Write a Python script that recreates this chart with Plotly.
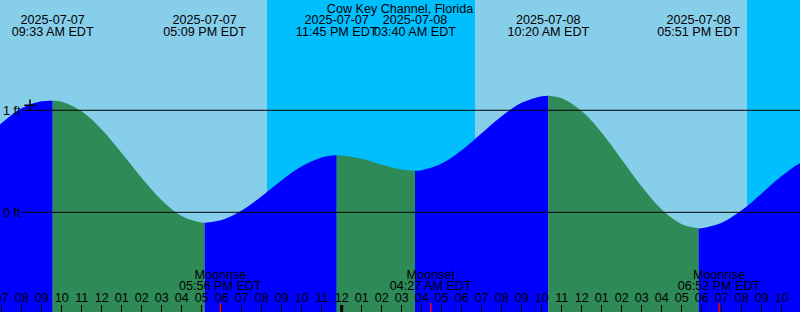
import pandas as pd
import plotly.graph_objects as go

TITLE = "Cow Key Channel, Florida"

# Tide extremes (high / low)
extreme_times = ["2025-07-07 09:33", "2025-07-07 17:09", "2025-07-07 23:45",
                 "2025-07-08 03:40", "2025-07-08 10:20", "2025-07-08 17:51",
                 "2025-07-09 00:24"]
extreme_heights = [1.094, -0.102, 0.559, 0.408, 1.143, -0.157, 0.57]
extreme_date_labels = ["2025-07-07", "2025-07-07", "2025-07-07", "2025-07-08",
                       "2025-07-08", "2025-07-08", "2025-07-09"]
extreme_time_labels = ["09:33 AM EDT", "05:09 PM EDT", "11:45 PM EDT", "03:40 AM EDT",
                       "10:20 AM EDT", "05:51 PM EDT", "12:24 AM EDT"]

# Hourly tide heights (ft), 2025-07-07 06:00 .. 2025-07-08 23:00
reading_start = "2025-07-07 06:00"
reading_heights = [0.70, 0.875, 1.02, 1.088, 1.084, 0.990, 0.812, 0.582, 0.337, 0.119,
                   -0.036, -0.101, -0.075, 0.018, 0.158, 0.314, 0.451, 0.538,
                   0.557, 0.524, 0.466, 0.419, 0.413, 0.478, 0.609, 0.776, 0.942,
                   1.073, 1.138, 1.118, 0.992, 0.780, 0.518, 0.252, 0.027, -0.116,
                   -0.156, -0.102, 0.020, 0.185, 0.355, 0.490]

# Sun: night intervals (sunset -> sunrise)
night_starts = ["2025-07-07 20:16", "2025-07-08 20:16"]
night_ends = ["2025-07-08 06:40", "2025-07-09 06:40"]

# Moon events
moon_times = ["2025-07-07 17:56", "2025-07-08 04:27", "2025-07-08 18:52"]
moon_names = ["Moonrise", "Moonset", "Moonrise"]
moon_time_labels = ["05:56 PM EDT", "04:27 AM EDT", "06:52 PM EDT"]

# Current time marker
now_time = "2025-07-07 08:25"
now_height = 1.05

X_RANGE = ["2025-07-07 06:55", "2025-07-08 22:55"]
Y_RANGE = [-0.977, 2.081]
W, H = 800, 312

DAY = "#87CEEB"
NIGHT = "#00BFFF"
RISE = "#0000FF"
FALL = "#2E8B57"
FONT = "Liberation Sans, Arial, sans-serif"
FS = 12.6

def y_at_px(py):
    # data value at a given pixel row (for label placement)
    return Y_RANGE[1] - py / H * (Y_RANGE[1] - Y_RANGE[0])

reading_times = pd.date_range(reading_start, periods=len(reading_heights), freq="h")
ext_t = pd.to_datetime(extreme_times)
pts = sorted(list(zip(reading_times, reading_heights)) + list(zip(ext_t, extreme_heights)))

fig = go.Figure()

bounds = [pts[0][0]] + list(ext_t)
ybase = Y_RANGE[0] - 0.1
for a, b in zip(bounds[:-1], bounds[1:]):
    seg = [(t, h) for t, h in pts if a <= t <= b]
    color = RISE if seg[-1][1] > seg[0][1] else FALL
    fig.add_trace(go.Scatter(x=[a, b], y=[ybase, ybase], mode="lines",
                             line=dict(width=0), showlegend=False, hoverinfo="skip"))
    fig.add_trace(go.Scatter(x=[p[0] for p in seg], y=[p[1] for p in seg], mode="lines",
                             line=dict(width=0, shape="spline", color=color),
                             fill="tonexty", fillcolor=color, showlegend=False))

# current-time marker
fig.add_trace(go.Scatter(x=[now_time], y=[now_height], mode="markers",
                         marker=dict(symbol="cross-thin", size=8,
                                     line=dict(color="black", width=1.5)),
                         showlegend=False))

tf = dict(size=FS, color="black", family=FONT)
# tide event labels
fig.add_trace(go.Scatter(x=extreme_times, y=[y_at_px(21)] * len(extreme_times),
                         mode="text", text=extreme_date_labels, textposition="middle center",
                         textfont=tf, cliponaxis=False, showlegend=False))
fig.add_trace(go.Scatter(x=extreme_times, y=[y_at_px(32.7)] * len(extreme_times),
                         mode="text", text=extreme_time_labels, textposition="middle center",
                         textfont=tf, cliponaxis=False, showlegend=False))
# moon labels
fig.add_trace(go.Scatter(x=moon_times, y=[y_at_px(275.5)] * len(moon_times),
                         mode="text", text=moon_names, textposition="middle center",
                         textfont=tf, cliponaxis=False, showlegend=False))
fig.add_trace(go.Scatter(x=moon_times, y=[y_at_px(286.5)] * len(moon_times),
                         mode="text", text=moon_time_labels, textposition="middle center",
                         textfont=tf, cliponaxis=False, showlegend=False))

shapes = []
for s, e in zip(night_starts, night_ends):
    shapes.append(dict(type="rect", xref="x", yref="paper", x0=s, x1=e, y0=0, y1=1,
                       fillcolor=NIGHT, line=dict(width=0), layer="below"))
for lvl in [0, 1]:
    shapes.append(dict(type="line", xref="paper", yref="y", x0=22 / W, x1=1, y0=lvl, y1=lvl,
                       line=dict(color="black", width=1), layer="above"))
shapes.append(dict(type="line", xref="x", yref="paper", x0="2025-07-08 00:00",
                   x1="2025-07-08 00:00", y0=0, y1=7 / H,
                   line=dict(color="black", width=3), layer="above"))
for mt in moon_times:
    shapes.append(dict(type="line", xref="x", yref="paper", x0=mt, x1=mt, y0=0, y1=9 / H,
                       line=dict(color="red", width=1.5), layer="above"))

fig.update_layout(
    width=W, height=H, margin=dict(l=0, r=0, t=0, b=0, pad=0),
    paper_bgcolor=DAY, plot_bgcolor=DAY,
    font=dict(family=FONT, size=FS, color="black"),
    title=dict(text=TITLE, x=0.5, xanchor="center", y=1 - 8.5 / H, yanchor="middle",
               font=tf, automargin=False),
    shapes=shapes,
    showlegend=False,
    xaxis=dict(type="date", range=X_RANGE, tickformat="%I", dtick=3600000,
               tick0="2025-07-07 00:00", ticks="inside", ticklen=7, tickwidth=1,
               tickcolor="black", ticklabelposition="inside", ticklabeloverflow="allow",
               showgrid=False, zeroline=False, showline=False, automargin=False,
               tickfont=tf),
    yaxis=dict(range=Y_RANGE, tickvals=[0, 1], ticktext=["0 ft", "1 ft"], ticks="",
               ticklabelposition="inside", ticklabeloverflow="allow",
               showgrid=False, zeroline=False, showline=False, automargin=False,
               tickfont=tf),
)

fig.write_html("out.html")
